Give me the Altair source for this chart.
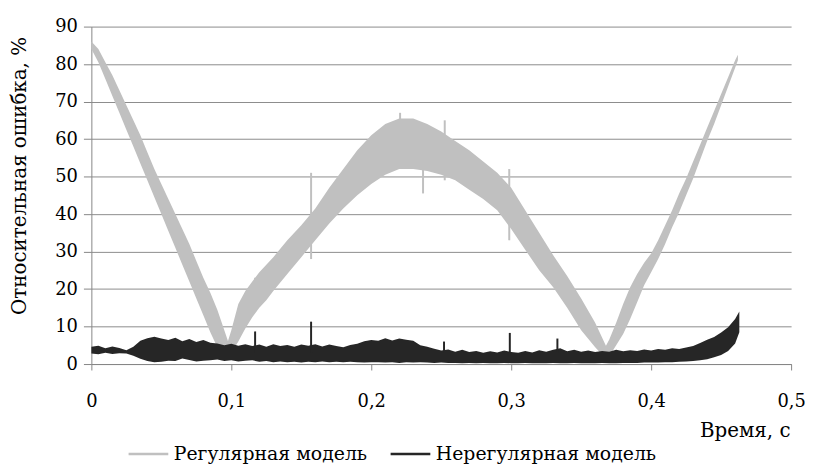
import altair as alt
import pandas as pd

# ---- Регулярная модель: band edges (lower / upper) ----
reg_a_x = [0.000, 0.005, 0.010, 0.015, 0.020, 0.025, 0.030, 0.035, 0.040, 0.045, 0.050,
           0.055, 0.060, 0.065, 0.070, 0.075, 0.080, 0.085, 0.090, 0.095, 0.100]
reg_a_lo = [84, 80.5, 76, 71.5, 67, 62.5, 58, 53.5, 49, 44.5, 40,
            35.5, 31, 26.5, 22, 17.5, 13, 8.5, 4.5, 2.5, 2.5]
reg_a_hi = [86, 84, 80.5, 77, 73, 69, 65, 61, 56.5, 52, 48,
            44, 40, 36, 32, 27.5, 23, 19, 14.5, 9, 3.5]

reg_b_x = [0.095, 0.100, 0.105, 0.110, 0.115, 0.120, 0.125, 0.130, 0.140, 0.150, 0.160,
           0.170, 0.180, 0.190, 0.200, 0.210, 0.220, 0.230, 0.240, 0.250, 0.260, 0.270,
           0.280, 0.290, 0.300, 0.310, 0.320, 0.330, 0.340, 0.350, 0.360, 0.365, 0.370]
reg_b_lo = [2, 3, 6, 9.5, 12.5, 15, 17, 19.5, 24, 28.5, 33,
            37.5, 41.5, 45, 48, 50.5, 52, 52, 51.5, 50.5, 49, 46.5,
            44, 41, 36, 30.5, 25, 20.5, 15, 9, 4.5, 2.5, 2]
reg_b_hi = [3, 9, 16, 19.5, 22, 24.5, 26.5, 28.5, 33, 37, 41.5,
            47, 52, 57, 61, 64, 65.5, 65.5, 64, 62, 59.5, 57,
            54, 51, 47, 41, 35, 29, 23.5, 17.5, 11, 7, 3]

reg_c_x = [0.365, 0.370, 0.375, 0.380, 0.385, 0.390, 0.395, 0.400, 0.405, 0.410, 0.415,
           0.420, 0.425, 0.430, 0.435, 0.440, 0.445, 0.450, 0.455, 0.460, 0.462]
reg_c_lo = [2, 2, 5, 8, 12, 16.5, 21, 24.5, 28, 32, 36.5,
            40.5, 45, 49.5, 54.5, 59.5, 64, 69, 74, 79, 81]
reg_c_hi = [3, 6.5, 11, 16, 20.5, 24, 27, 29.5, 33, 37, 41,
            45.5, 49.5, 54, 58.5, 63, 67.5, 72, 76.5, 81, 82.5]

reg_spike_x = [0.117, 0.157, 0.2206, 0.237, 0.2525, 0.2986]
reg_spike_lo = [14, 28, 64, 45.5, 49, 33]
reg_spike_hi = [23, 51, 67, 54, 65, 52]

# ---- Нерегулярная модель ----
irr_x = [0.000, 0.005, 0.010, 0.015, 0.020, 0.025, 0.030, 0.035, 0.040, 0.045,
         0.050, 0.055, 0.060, 0.065, 0.070, 0.075, 0.080, 0.085, 0.090, 0.095,
         0.100, 0.105, 0.110, 0.115, 0.120, 0.125, 0.130, 0.135, 0.140, 0.145,
         0.150, 0.155, 0.160, 0.165, 0.170, 0.175, 0.180, 0.185, 0.190, 0.195,
         0.200, 0.205, 0.210, 0.215, 0.220, 0.225, 0.230, 0.235, 0.240, 0.245,
         0.250, 0.255, 0.260, 0.265, 0.270, 0.275, 0.280, 0.285, 0.290, 0.295,
         0.300, 0.305, 0.310, 0.315, 0.320, 0.325, 0.330, 0.335, 0.340, 0.345,
         0.350, 0.355, 0.360, 0.365, 0.370, 0.375, 0.380, 0.385, 0.390, 0.395,
         0.400, 0.405, 0.410, 0.415, 0.420, 0.425, 0.430, 0.435, 0.440, 0.445,
         0.450, 0.455, 0.460, 0.463]
irr_hi = [4.6, 4.9, 4.2, 4.7, 4.3, 3.7, 4.6, 6.2, 6.9, 7.3,
          6.8, 6.4, 7.0, 6.1, 6.7, 5.9, 6.4, 5.7, 5.5, 5.0,
          5.4, 4.9, 5.3, 4.8, 5.2, 4.6, 5.3, 4.8, 5.1, 4.6,
          5.2, 4.9, 5.3, 4.7, 5.2, 4.8, 4.5, 5.1, 5.4, 6.1,
          6.4, 6.2, 6.9, 6.3, 6.8, 6.5, 6.2, 5.0, 4.6, 4.1,
          3.6, 3.9, 3.3, 3.8, 3.2, 3.5, 3.0, 3.4, 3.1, 3.6,
          3.2, 3.0, 3.5, 3.1, 3.7, 3.3, 3.8, 4.2, 3.4, 3.8,
          3.3, 3.6, 3.2, 3.5, 3.3, 3.8, 3.4, 3.7, 3.5, 3.9,
          3.6, 4.0, 3.8, 4.2, 4.0, 4.4, 4.8, 5.6, 6.5, 7.2,
          8.4, 9.8, 12.0, 14.0]
irr_lo = [2.8, 2.6, 3.0, 2.7, 2.9, 2.8, 2.2, 1.4, 0.8, 0.5,
          0.6, 0.9, 0.8, 1.5, 1.1, 0.7, 0.9, 1.0, 1.2, 0.8,
          1.0, 0.7, 0.9, 1.0, 0.6, 0.8, 0.5, 0.7, 0.5, 0.6,
          0.4, 0.6, 0.5, 0.7, 0.5, 0.6, 0.5, 0.6, 0.5, 0.4,
          0.5, 0.5, 0.4, 0.5, 0.3, 0.5, 0.4, 0.5, 0.4, 0.3,
          0.4, 0.3, 0.3, 0.2, 0.3, 0.2, 0.3, 0.2, 0.2, 0.3,
          0.2, 0.2, 0.3, 0.2, 0.2, 0.2, 0.3, 0.2, 0.2, 0.3,
          0.2, 0.2, 0.2, 0.3, 0.2, 0.2, 0.3, 0.3, 0.3, 0.4,
          0.4, 0.4, 0.5, 0.5, 0.6, 0.7, 0.8, 1.0, 1.3, 1.8,
          2.4, 3.5, 5.5, 8.5]

irr_spike_x = [0.117, 0.157, 0.252, 0.299, 0.333]
irr_spike_lo = [3, 3, 3, 3, 3]
irr_spike_hi = [8.7, 11.3, 6.0, 8.3, 6.8]

series_names = ["Регулярная модель", "Нерегулярная модель"]
series_colors = ["#c0c0c0", "#262626"]
x_ticks = [0, 0.1, 0.2, 0.3, 0.4, 0.5]
y_ticks = [0, 10, 20, 30, 40, 50, 60, 70, 80, 90]

FONT = "DejaVu Serif"


def band_df(xs, los, his):
    return pd.DataFrame({"t": xs, "lo": los, "hi": his})


spike_df = pd.DataFrame(
    [{"t": x, "lo": lo, "hi": hi, "series": series_names[0]}
     for x, lo, hi in zip(reg_spike_x, reg_spike_lo, reg_spike_hi)]
    + [{"t": x, "lo": lo, "hi": hi, "series": series_names[1]}
       for x, lo, hi in zip(irr_spike_x, irr_spike_lo, irr_spike_hi)]
)

x_scale = alt.Scale(domain=[0, 0.5], nice=False, zero=False)
y_scale = alt.Scale(domain=[0, 90], nice=False)

x_axis = alt.Axis(
    values=x_ticks, grid=False, labelExpr="replace(format(datum.value, '.1~f'), '.', ',')",
    title="Время, с", titleAnchor="end", titleAlign="right", titleX=704, titleY=73,
    titleBaseline="alphabetic", tickSize=6, labelPadding=23, labelFlush=False,
)
y_axis = alt.Axis(
    values=y_ticks, grid=True, title="Относительная ошибка, %", tickSize=8,
    labelPadding=6, titleX=-72, titleY=150, titleAlign="center", titleBaseline="middle",
)

X = alt.X("t:Q", scale=x_scale, axis=x_axis)
Y = alt.Y("lo:Q", scale=y_scale, axis=y_axis, stack=None)


def band(xs, los, his, color):
    return alt.Chart(band_df(xs, los, his)).mark_area(color=color, opacity=1).encode(
        x=X, y=Y, y2="hi:Q"
    )


layers = [
    band(reg_a_x, reg_a_lo, reg_a_hi, series_colors[0]),
    band(reg_b_x, reg_b_lo, reg_b_hi, series_colors[0]),
    band(reg_c_x, reg_c_lo, reg_c_hi, series_colors[0]),
    band(irr_x, irr_lo, irr_hi, series_colors[1]),
]

spikes = alt.Chart(spike_df).mark_rule(strokeWidth=2).encode(
    x=X, y=Y, y2="hi:Q",
    color=alt.Color(
        "series:N",
        scale=alt.Scale(domain=series_names, range=series_colors),
        legend=alt.Legend(
            title=None, orient="none", direction="horizontal", legendX=36, legendY=409,
            symbolType="stroke", symbolSize=1600, symbolStrokeWidth=2.5,
            labelFont=FONT, labelFontSize=19, labelColor="#000000", labelOffset=4,
            labelLimit=400, columnPadding=18,
        ),
    ),
)

chart = (
    alt.layer(*layers, spikes)
    .properties(
        width=705, height=340,
        autosize=alt.AutoSizeParams(type="none"),
        padding={"left": 84, "top": 17, "right": 14, "bottom": 101},
    )
    .configure_view(stroke=None)
    .configure_axis(
        labelFont=FONT, labelFontSize=18, labelColor="#000000",
        titleFont=FONT, titleFontSize=20, titleFontWeight="normal", titleColor="#000000",
        domainColor="#868686", tickColor="#868686", gridColor="#8c8c8c",
        domainWidth=1, tickWidth=1, gridWidth=1,
    )
    .configure_legend(labelFont=FONT)
)

chart.save("out.html", embed_options={"renderer": "svg", "actions": False})
